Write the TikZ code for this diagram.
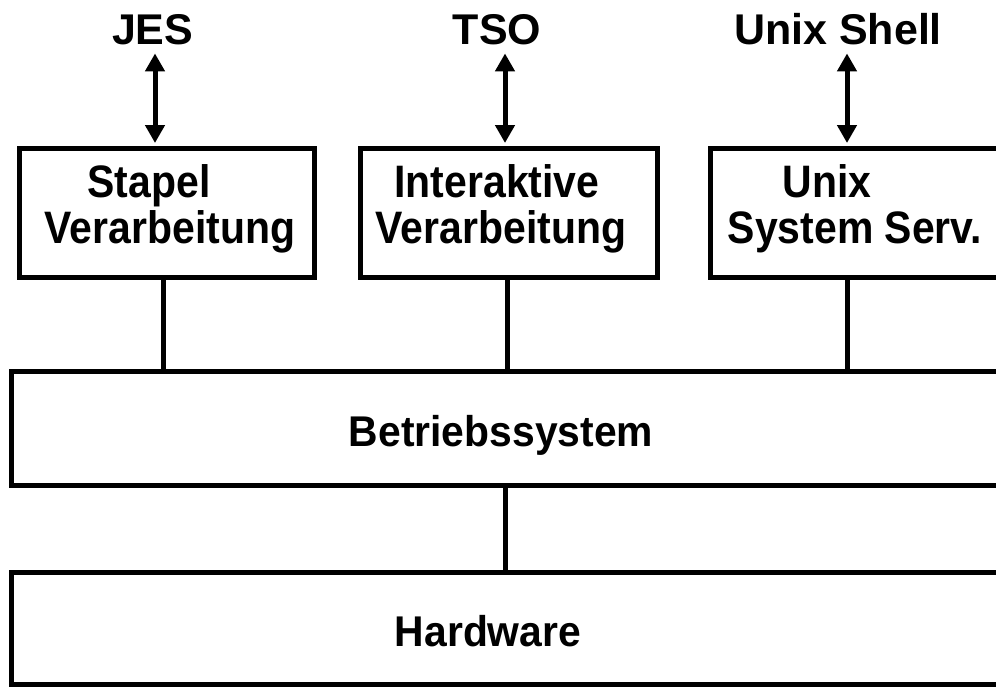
\documentclass[tikz,border=0pt]{standalone}
\usepackage{fontspec}
\setmainfont{Liberation Sans}
\newfontfamily\boxfont{Liberation Sans}[FakeStretch=0.9]
\newfontfamily\basefont{Liberation Sans}[FakeStretch=0.95]
\usetikzlibrary{arrows.meta}
\begin{document}
\begin{tikzpicture}[x=1pt,y=-1pt,
  box/.style={draw, line width=5pt, inner sep=0pt, outer sep=0pt},
  txt/.style={font=\boxfont\fontsize{45.5}{50}\selectfont\bfseries, inner sep=0pt, outer sep=0pt, anchor=base},
  wtxt/.style={font=\basefont\fontsize{43}{48}\selectfont\bfseries, inner sep=0pt, outer sep=0pt, anchor=base},
  lbl/.style={font=\fontsize{43}{48}\selectfont\bfseries, inner xsep=0pt, inner ysep=9pt, outer sep=0pt, anchor=base},
  conn/.style={line width=5pt},
  dbl/.style={line width=5pt, {Triangle[length=18pt,width=19pt]}-{Triangle[length=18pt,width=19pt]}, shorten >=5pt}]
\clip (0,0) rectangle (996,686);
\fill[white] (0,0) rectangle (996,686);
% top labels
\node[lbl] (jes) at (152.7,44) {JES};
\node[lbl] (tso) at (497,44) {TSO};
\node[lbl] (ush) at (838,44) {Unix Shell};
% upper boxes
\node[box, minimum width=295.5pt, minimum height=129pt] (b1) at (166.75,212.5) {};
\node[box, minimum width=297pt, minimum height=129pt] (b2) at (509,212.5) {};
\node[box, minimum width=296pt, minimum height=129pt] (b3) at (858,212.5) {};
\node[txt] (t1a) at (149,197) {Stapel};
\node[txt] (t1b) at (170,243) {Verarbeitung};
\node[txt] (t2a) at (497,197) {Interaktive};
\node[txt] (t2b) at (501,243) {Verarbeitung};
\node[txt] (t3a) at (827,197) {Unix};
\node[txt] (t3b) at (855,243) {System Serv.};
% lower boxes
\node[box, minimum width=999pt, minimum height=114pt] (bs) at (510.5,428) {};
\node[box, minimum width=999pt, minimum height=112pt] (hw) at (510.5,628) {};
\node[wtxt] (tbs) at (501,446) {Betriebssystem};
\node[wtxt] (thw) at (488,646) {Hardware};
% arrow and connector columns
\coordinate (a1) at (155,0);
\coordinate (a2) at (505,0);
\coordinate (a3) at (847,0);
\coordinate (c1) at (163,0);
\coordinate (c2) at (507,0);
\coordinate (c3) at (847,0);
\coordinate (c4) at (505,0);
% arrows
\draw[dbl] (jes.south -| a1) -- (b1.north -| a1);
\draw[dbl] (tso.south -| a2) -- (b2.north -| a2);
\draw[dbl] (ush.south -| a3) -- (b3.north -| a3);
% connectors
\draw[conn] (b1.south -| c1) -- (bs.north -| c1);
\draw[conn] (b2.south -| c2) -- (bs.north -| c2);
\draw[conn] (b3.south -| c3) -- (bs.north -| c3);
\draw[conn] (bs.south -| c4) -- (hw.north -| c4);
\end{tikzpicture}
\end{document}
